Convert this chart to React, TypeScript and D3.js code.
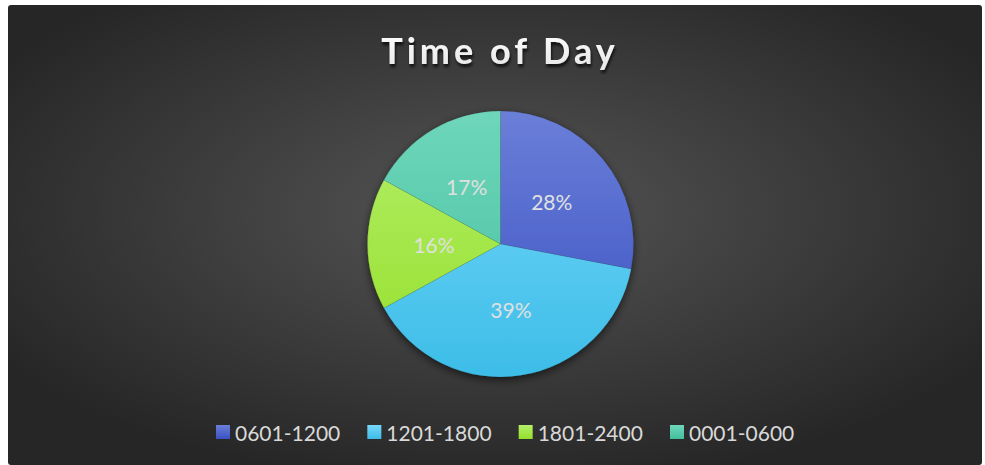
import React from "react";
import * as d3 from "d3";

const categories = ["0601-1200", "1201-1800", "1801-2400", "0001-0600"];
const values = [28, 39, 16, 17];
const colorsTop = ["#6a7fd8", "#78d8fa", "#b4ef6a", "#6fd6ba"];
const colorsBottom = ["#3a50c2", "#3cbde8", "#94df2a", "#43bf9e"];
const title = "Time of Day";

const W = 985;
const H = 465;

export default function App() {
  const cx = 500.5;
  const cy = 244;
  const r = 133;
  const pie = d3.pie<number>().sort(null).value((d) => d);
  const arcs = pie(values);
  const arcGen = d3.arc<d3.PieArcDatum<number>>().innerRadius(0).outerRadius(r);
  const labelArc = d3.arc<d3.PieArcDatum<number>>().innerRadius(r * 0.5).outerRadius(r * 0.5);
  const total = d3.sum(values);
  const fmt = (v: number) => `${Math.round((v / total) * 100)}%`;

  const legendX = d3.scalePoint<string>().domain(categories).range([216, 670]);

  return (
    <svg
      width={W}
      height={H}
      style={{ position: "absolute", left: 0, top: 0 }}
      fontFamily="Lato, 'Open Sans', sans-serif"
    >
      <defs>
        <radialGradient id="bg" cx="50%" cy="45%" r="60%">
          <stop offset="0%" stopColor="#555555" />
          <stop offset="100%" stopColor="#262626" />
        </radialGradient>
        {categories.map((c, i) => (
          <linearGradient
            key={c}
            id={`g${i}`}
            gradientUnits="userSpaceOnUse"
            x1={0}
            y1={-r}
            x2={0}
            y2={r}
          >
            <stop offset="0%" stopColor={colorsTop[i]} />
            <stop offset="100%" stopColor={colorsBottom[i]} />
          </linearGradient>
        ))}
        {categories.map((c, i) => (
          <linearGradient key={"l" + c} id={`lg${i}`} x1="0" y1="0" x2="0" y2="1">
            <stop offset="0%" stopColor={colorsTop[i]} />
            <stop offset="100%" stopColor={colorsBottom[i]} />
          </linearGradient>
        ))}
        <filter id="pieShadow" x="-20%" y="-20%" width="140%" height="140%">
          <feGaussianBlur in="SourceAlpha" stdDeviation="4" />
          <feOffset dx="0" dy="3" result="b" />
          <feComponentTransfer>
            <feFuncA type="linear" slope="0.6" />
          </feComponentTransfer>
          <feMerge>
            <feMergeNode />
            <feMergeNode in="SourceGraphic" />
          </feMerge>
        </filter>
        <filter id="titleShadow" x="-10%" y="-30%" width="120%" height="160%">
          <feGaussianBlur in="SourceAlpha" stdDeviation="1.5" />
          <feOffset dx="1" dy="3" />
          <feComponentTransfer>
            <feFuncA type="linear" slope="0.75" />
          </feComponentTransfer>
          <feMerge>
            <feMergeNode />
            <feMergeNode in="SourceGraphic" />
          </feMerge>
        </filter>
        <linearGradient id="titleGrad" x1="0" y1="0" x2="0" y2="1">
          <stop offset="0%" stopColor="#ffffff" />
          <stop offset="100%" stopColor="#e6e6e6" />
        </linearGradient>
      </defs>
      <rect x={0} y={0} width={W} height={H} fill="#ffffff" />
      <rect x={8} y={5} width={974} height={460} rx={3} fill="url(#bg)" />

      <text
        x={500}
        y={64}
        textAnchor="middle"
        fontSize={36}
        fontWeight={700}
        letterSpacing={4}
        fill="url(#titleGrad)"
        filter="url(#titleShadow)"
      >
        {title}
      </text>

      <g transform={`translate(${cx},${cy})`}>
        <g filter="url(#pieShadow)">
          {arcs.map((a, i) => (
            <path
              key={i}
              d={arcGen(a) || ""}
              fill={`url(#g${i})`}
              stroke="rgba(0,0,0,0.15)"
              strokeWidth={0.5}
            />
          ))}
        </g>
        {arcs.map((a, i) => {
          const [lx, ly] = labelArc.centroid(a);
          return (
            <text
              key={"t" + i}
              x={lx}
              y={ly}
              textAnchor="middle"
              dominantBaseline="central"
              fontSize={21}
              fill="#e0e0e0"
            >
              {fmt(a.data)}
            </text>
          );
        })}
      </g>

      <g>
        {categories.map((c, i) => {
          const x = legendX(c) || 0;
          return (
            <g key={"leg" + c} transform={`translate(${x},425)`}>
              <rect x={0} y={0} width={14} height={14} fill={`url(#lg${i})`} />
              <text x={19} y={7} dominantBaseline="central" fontSize={21} fill="#d9d9d9">
                {c}
              </text>
            </g>
          );
        })}
      </g>
    </svg>
  );
}
